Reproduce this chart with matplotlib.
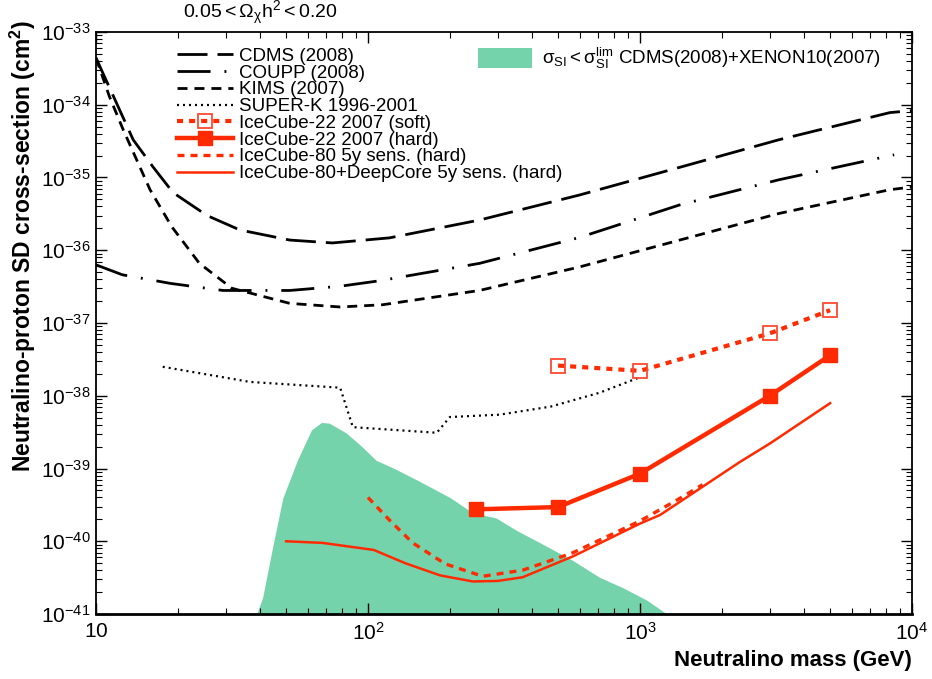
import numpy as np
import matplotlib
matplotlib.use("Agg")
import matplotlib.pyplot as plt
from matplotlib.patches import Patch

plt.rcParams["font.family"] = ["Liberation Sans", "DejaVu Sans"]
plt.rcParams["mathtext.fontset"] = "custom"
plt.rcParams["mathtext.rm"] = "Liberation Sans"
plt.rcParams["mathtext.it"] = "Liberation Sans:italic"
plt.rcParams["mathtext.bf"] = "Liberation Sans:bold"

# direct detection limits (GeV, cm^2)
cdms_m = [10, 13.7, 16.2, 19.2, 25.6, 33.8, 51.6, 74, 120, 257, 600, 1400, 3240, 8300, 10000]
cdms_s = [4.4e-34, 3.3e-35, 1.4e-35, 6.2e-36, 3.0e-36, 1.9e-36, 1.38e-36, 1.26e-36,
          1.48e-36, 2.6e-36, 5.75e-36, 1.38e-35, 3.3e-35, 7.8e-35, 8.3e-35]

coupp_m = [10, 12.5, 18.8, 29.3, 51.6, 79, 110, 257, 600, 1400, 3240, 8600]
coupp_s = [6.3e-37, 4.6e-37, 3.5e-37, 2.8e-37, 2.8e-37, 3.2e-37, 3.8e-37, 6.6e-37,
           1.5e-36, 4.2e-36, 9.3e-36, 2.05e-35]

kims_m = [10, 11.2, 12.6, 15.8, 19, 24, 31.6, 51.6, 79, 113, 257, 600, 1400, 3240, 8300, 10000]
kims_s = [4.4e-34, 1.3e-34, 4.5e-35, 6.8e-36, 2.1e-36, 6.6e-37, 3.0e-37, 1.86e-37,
          1.66e-37, 1.78e-37, 2.8e-37, 5.9e-37, 1.38e-36, 3.2e-36, 6.8e-36, 7.4e-36]

superk_m = [17.6, 36.8, 79, 88, 179, 200, 305, 470, 710, 1000]
superk_s = [2.5e-38, 1.55e-38, 1.29e-38, 3.7e-39, 3.1e-39, 5.1e-39, 5.5e-39, 7.1e-39,
            1.1e-38, 1.8e-38]

# IceCube limits and sensitivities
ic22_soft_m = [500, 1000, 3000, 5000]
ic22_soft_s = [2.6e-38, 2.2e-38, 7.2e-38, 1.5e-37]

ic22_hard_m = [250, 500, 1000, 3000, 5000]
ic22_hard_s = [2.75e-40, 2.95e-40, 8.5e-40, 1.0e-38, 3.6e-38]

ic80_m = [100, 120, 146, 192, 264, 370, 564, 1000, 1370, 1700]
ic80_s = [4.0e-40, 1.95e-40, 9.5e-41, 4.9e-41, 3.3e-41, 4.0e-41, 6.9e-41, 1.9e-40,
          3.7e-40, 6.0e-40]

dc_m = [50, 68, 105, 137, 184, 243, 300, 370, 567, 1000, 1186, 2330, 3000, 5000]
dc_s = [1.0e-40, 9.5e-41, 7.6e-41, 5.0e-41, 3.4e-41, 2.8e-41, 2.85e-41, 3.2e-41, 6.2e-41,
        1.75e-40, 2.3e-40, 1.23e-39, 2.2e-39, 7.9e-39]

# allowed region (sigma_SI below CDMS+XENON10)
band_m = [39, 41, 44.6, 48.6, 55, 62, 67.5, 72, 83, 95, 107, 125, 152, 200, 243, 295, 353,
          430, 564, 710, 865, 1060, 1255, 1310]
band_s = [1e-41, 1.7e-41, 8.3e-41, 3.9e-40, 1.3e-39, 3.4e-39, 4.3e-39, 4.2e-39,
          3.1e-39, 2.0e-39, 1.3e-39, 1.0e-39, 6.9e-40, 4.0e-40, 2.45e-40, 2.1e-40, 1.4e-40,
          9.5e-41, 5.5e-41, 3.2e-41, 2.3e-41, 1.55e-41, 1.0e-41, 1e-41]

yticks = [1e-41, 1e-40, 1e-39, 1e-38, 1e-37, 1e-36, 1e-35, 1e-34, 1e-33]
ytick_labels = [r"$10^{-41}$", r"$10^{-40}$", r"$10^{-39}$", r"$10^{-38}$", r"$10^{-37}$",
                r"$10^{-36}$", r"$10^{-35}$", r"$10^{-34}$", r"$10^{-33}$"]
xticks = [10, 100, 1000, 10000]
xtick_labels = [r"$\mathregular{10}$", r"$10^{2}$", r"$10^{3}$", r"$10^{4}$"]

RED = "#ff2a00"
GREEN = "#75d3ab"


def main():
    fig = plt.figure(figsize=(9.32, 6.79), dpi=100)
    ax = fig.add_axes([0.103, 0.0957, 0.8755, 0.8572])

    ax.fill_between(band_m, 1e-41, band_s, color=GREEN, lw=0, zorder=1)

    l_cdms, = ax.plot(cdms_m, cdms_s, color="k", lw=2, dashes=(10.8, 3.6))
    l_coupp, = ax.plot(coupp_m, coupp_s, color="k", lw=2, dashes=(11.9, 5, 0.7, 5))
    l_kims, = ax.plot(kims_m, kims_s, color="k", lw=2, dashes=(3.6, 2.5))
    l_sk, = ax.plot(superk_m, superk_s, color="k", lw=1.6, dashes=(0.9, 1.8))
    l_soft, = ax.plot(ic22_soft_m, ic22_soft_s, color=RED, lw=3, dashes=(1.45, 1.45),
                      marker="s", ms=10, mfc="none", mec="#ff4a30", mew=1.3)
    l_hard, = ax.plot(ic22_hard_m, ic22_hard_s, color=RED, lw=3.2,
                      marker="s", ms=10.5, mfc=RED, mec=RED)
    l_ic80, = ax.plot(ic80_m, ic80_s, color=RED, lw=2.4, dashes=(2.1, 1.8))
    l_dc, = ax.plot(dc_m, dc_s, color=RED, lw=1.8)

    ax.set_xscale("log")
    ax.set_yscale("log")
    ax.set_xlim(10, 1e4)
    ax.set_ylim(1e-41, 1e-33)
    ax.set_xticks(xticks)
    ax.set_xticklabels(xtick_labels)
    ax.set_yticks(yticks)
    ax.set_yticklabels(ytick_labels)
    ax.tick_params(which="both", direction="in", top=True, right=True, labelsize=15)
    ax.tick_params(which="major", length=8, width=1)
    ax.tick_params(which="minor", length=4, width=0.8)
    ax.tick_params(axis="x", pad=6)
    ax.tick_params(axis="y", pad=4)
    for s in ax.spines.values():
        s.set_linewidth(1.3)
    ax.spines["bottom"].set_linewidth(2)

    leg1 = ax.legend(
        [l_cdms, l_coupp, l_kims, l_sk, l_soft, l_hard, l_ic80, l_dc],
        ["CDMS (2008)", "COUPP (2008)", "KIMS (2007)", "SUPER-K 1996-2001",
         "IceCube-22 2007 (soft)", "IceCube-22 2007 (hard)",
         "IceCube-80 5y sens. (hard)", "IceCube-80+DeepCore 5y sens. (hard)"],
        loc="upper left", bbox_to_anchor=(0.099, 0.973), frameon=False,
        fontsize=13.5, handlelength=3.0, handletextpad=0.3, labelspacing=-0.02,
        borderpad=0, borderaxespad=0, numpoints=1)
    ax.add_artist(leg1)

    ax.legend([Patch(facecolor=GREEN, edgecolor="none")],
              [r"$\mathregular{\sigma_{SI} < \sigma_{SI}^{lim}}$ CDMS(2008)+XENON10(2007)"],
              loc="upper left", bbox_to_anchor=(0.468, 0.976), frameon=False,
              fontsize=13.5, handlelength=2.9, handleheight=1.3, handletextpad=0.5,
              borderpad=0, borderaxespad=0)

    fig.text(0.196, 0.981, r"$\mathregular{0.05 < \Omega_{\chi}h^{2} < 0.20}$", fontsize=14,
             ha="left", va="center")
    fig.text(0.9785, 0.012, "Neutralino mass (GeV)", fontsize=16, fontweight="bold",
             ha="right", va="bottom")
    fig.text(0.008, 0.97, r"Neutralino-proton SD cross-section (cm$^\mathbf{2}$)",
             fontsize=16.5, fontweight="bold", rotation=90, ha="left", va="top")

    fig.savefig("out.png", dpi=100)


if __name__ == "__main__":
    main()
